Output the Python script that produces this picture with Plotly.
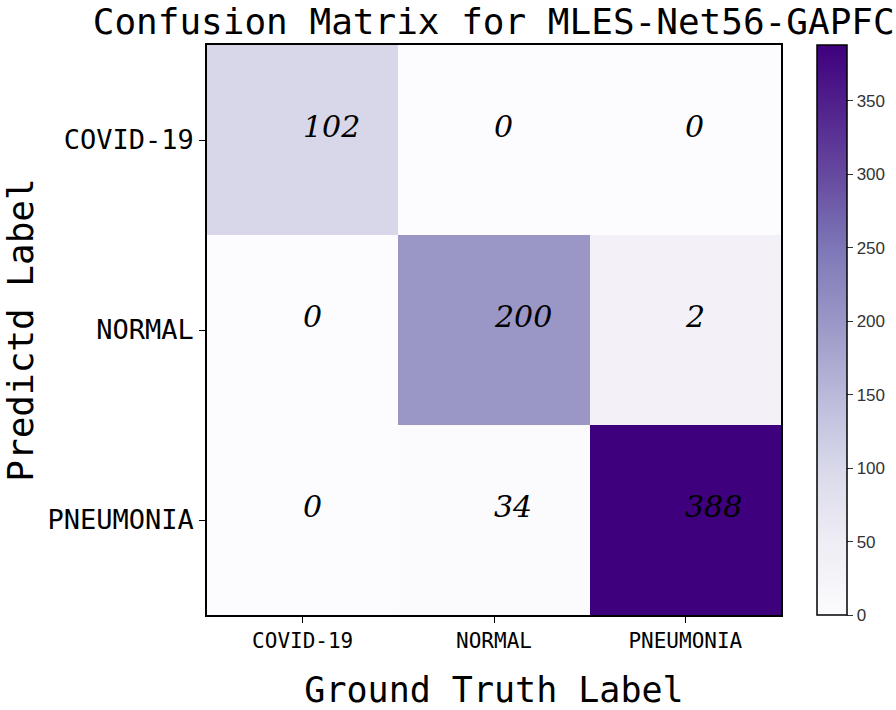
import plotly.graph_objects as go

gt_labels = ["COVID-19", "NORMAL", "PNEUMONIA"]
pred_labels = ["COVID-19", "NORMAL", "PNEUMONIA"]
# printed counts (rows = predicted, columns = ground truth)
row_covid = [102, 0, 0]
row_normal = [0, 200, 2]
row_pneumonia = [0, 34, 388]
cbar_ticks = [0, 50, 100, 150, 200, 250, 300, 350]

counts = [row_covid, row_normal, row_pneumonia]
# the reference colours its cells from the transposed matrix
z_color = [list(col) for col in zip(*counts)]

purples = [[0.0, "#fcfbfd"], [0.125, "#efedf5"], [0.25, "#dadaeb"], [0.375, "#bcbddc"],
           [0.5, "#9e9ac8"], [0.625, "#807dba"], [0.75, "#6a51a3"], [0.875, "#54278f"],
           [1.0, "#3f007d"]]

fig = go.Figure(go.Heatmap(
    z=z_color, x=gt_labels, y=pred_labels, colorscale=purples,
    zmin=0, zmax=max(max(r) for r in counts),
    colorbar=dict(
        thickness=30, len=1.0, lenmode="fraction", y=0.5, yanchor="middle",
        x=1.063, xanchor="left", xpad=0, ypad=0,
        outlinecolor="black", outlinewidth=1.5,
        tickvals=cbar_ticks, ticks="outside", ticklen=6, tickcolor="#333",
        tickfont=dict(family="Liberation Sans, Arial", size=17, color="#333"),
    ),
))

for i, yl in enumerate(pred_labels):
    for j, xl in enumerate(gt_labels):
        fig.add_annotation(
            x=xl, y=yl, text=str(counts[i][j]), showarrow=False,
            xanchor="left", yanchor="bottom", yshift=-6, xshift=-2,
            font=dict(family="DejaVu Serif", size=30, color="black", style="italic"),
        )

mono = "DejaVu Sans Mono"
fig.update_layout(
    width=896, height=710,
    margin=dict(l=207, r=115, t=45, b=95, autoexpand=False),
    paper_bgcolor="white", plot_bgcolor="white",
    title=dict(text="Confusion Matrix for MLES-Net56-GAPFC", x=0.551, xref="container",
               xanchor="center", y=1 - 21 / 710, yref="container", yanchor="middle",
               font=dict(family=mono, size=36, color="black")),
    xaxis=dict(showline=True, mirror=True, linecolor="black", linewidth=1.5,
               ticks="outside", ticklen=6, tickcolor="black",
               tickfont=dict(family=mono, size=21, color="black"),
               title=dict(text="Ground Truth Label", standoff=26,
                          font=dict(family=mono, size=35, color="black"))),
    yaxis=dict(showline=True, mirror=True, linecolor="black", linewidth=1.5,
               ticks="outside", ticklen=6, tickcolor="black", autorange="reversed",
               tickfont=dict(family=mono, size=27, color="black"),
               title=dict(text="Predictd Label", standoff=10,
                          font=dict(family=mono, size=36, color="black"))),
)

fig.write_html("out.html", config={"displayModeBar": False},
               post_script="document.body.style.margin='0';document.body.style.overflow='hidden';")
